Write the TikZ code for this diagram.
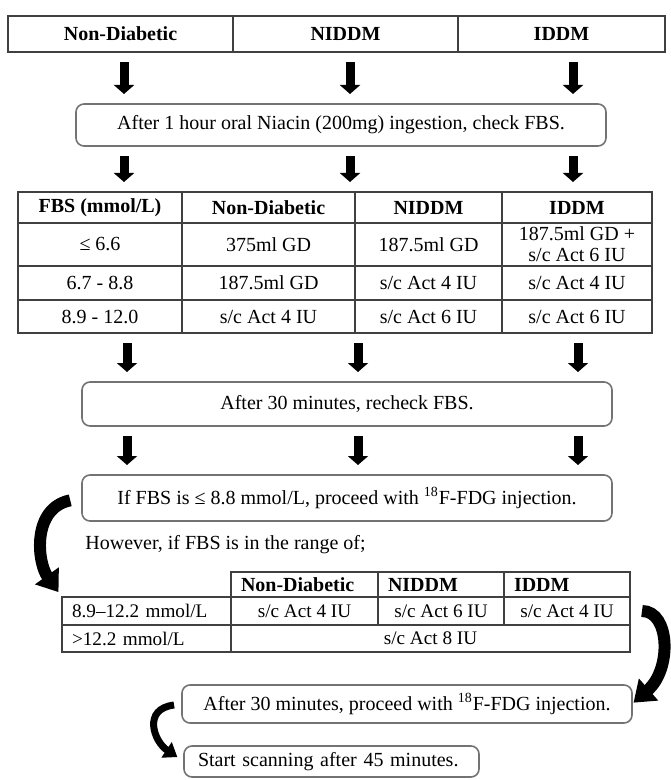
\documentclass[tikz,border=0pt]{standalone}
\usepackage{fontspec}
\setmainfont{Liberation Serif}
\usetikzlibrary{arrows.meta}

\begin{document}
\begin{tikzpicture}[
  x=0.5pt, y=-0.5pt,
  font=\fontsize{10}{12}\selectfont,
  cell/.style={
    draw=black!75,
    line width=0.6pt,
    anchor=north west,
    inner sep=0pt,
    outer sep=0pt,
    align=center
  },
  smallcell/.style={
    cell,
    font=\fontsize{9.6}{11}\selectfont
  },
  stepbox/.style={
    draw=black!55,
    line width=0.8pt,
    rounded corners=4pt,
    inner sep=0pt,
    outer sep=0pt,
    align=center
  },
  blockarrow/.style={
    line width=4.5pt,
    -{Triangle[length=4.5pt, width=10pt]},
    shorten <=5pt,
    shorten >=5pt
  },
  bendarrow/.style={
    line width=6pt,
    -{Triangle[length=10pt, width=14pt]}
  },
  smallbend/.style={
    line width=3.5pt,
    -{Triangle[length=6.5pt, width=9pt]}
  }
]
\useasboundingbox (0,0) rectangle (670,780);

% Group header (y = 16)
\node[cell, font=\bfseries, minimum width=112.5pt, minimum height=18pt] (topnd) at (8,16) {Non-Diabetic};
\node[cell, font=\bfseries, minimum width=112.5pt, minimum height=18pt] (topni) at (topnd.north east) {NIDDM};
\node[cell, font=\bfseries, minimum width=103.5pt, minimum height=18pt] (topid) at (topni.north east) {IDDM};

% Arrow columns
\coordinate (colA) at (124,0);
\coordinate (colB) at (350,0);
\coordinate (colC) at (573,0);
\coordinate (colD) at (127,0);
\coordinate (colE) at (358,0);
\coordinate (colF) at (578,0);

\node[stepbox, minimum width=265pt, minimum height=21pt] (niacin) at (341,125)
  {After 1 hour oral Niacin (200mg) ingestion, check FBS.};

% Dose table (y = 192)
\node[cell, font=\bfseries, minimum width=82pt, minimum height=15.5pt] (fbshead) at (18,192) {FBS (mmol/L)};
\node[cell, font=\bfseries, minimum width=86.5pt, minimum height=15.5pt] (ndhead) at (fbshead.north east) {Non-Diabetic};
\node[cell, font=\bfseries, minimum width=73.5pt, minimum height=15.5pt] (nihead) at (ndhead.north east) {NIDDM};
\node[cell, font=\bfseries, minimum width=75pt, minimum height=15.5pt] (idhead) at (nihead.north east) {IDDM};

\node[cell, minimum width=82pt, minimum height=21.5pt] (lowfbs) at (fbshead.south west) {≤ 6.6};
\node[cell, minimum width=86.5pt, minimum height=21.5pt] (lownd) at (lowfbs.north east) {375ml GD};
\node[cell, minimum width=73.5pt, minimum height=21.5pt] (lowni) at (lownd.north east) {187.5ml GD};
\node[cell, font=\fontsize{10}{10.5}\selectfont, minimum width=75pt, minimum height=21.5pt] (lowid) at (lowni.north east) {187.5ml GD +\\ s/c Act 6 IU};

\node[cell, minimum width=82pt, minimum height=17pt] (midfbs) at (lowfbs.south west) {6.7 - 8.8};
\node[cell, minimum width=86.5pt, minimum height=17pt] (midnd) at (midfbs.north east) {187.5ml GD};
\node[cell, minimum width=73.5pt, minimum height=17pt] (midni) at (midnd.north east) {s/c Act 4 IU};
\node[cell, minimum width=75pt, minimum height=17pt] (midid) at (midni.north east) {s/c Act 4 IU};

\node[cell, minimum width=82pt, minimum height=16.5pt] (highfbs) at (midfbs.south west) {8.9 - 12.0};
\node[cell, minimum width=86.5pt, minimum height=16.5pt] (highnd) at (highfbs.north east) {s/c Act 4 IU};
\node[cell, minimum width=73.5pt, minimum height=16.5pt] (highni) at (highnd.north east) {s/c Act 6 IU};
\node[cell, minimum width=75pt, minimum height=16.5pt] (highid) at (highni.north east) {s/c Act 6 IU};

\node[stepbox, minimum width=265pt, minimum height=22pt] (recheck) at (347,404)
  {After 30 minutes, recheck FBS.};
\node[stepbox, minimum width=265pt, minimum height=23pt] (proceed) at (347,498)
  {If FBS is ≤ 8.8 mmol/L, proceed with \textsuperscript{18}F-FDG injection.};

\node[anchor=base west, inner sep=0pt] (however) at (85,549) {However, if FBS is in the range of;};

% Correction table (y = 572)
\node[smallcell, font=\bfseries, inner xsep=5pt, text width=63.5pt, align=left, minimum height=12.5pt] (adjndhead) at (231,572) {Non-Diabetic};
\node[smallcell, font=\bfseries, inner xsep=5pt, text width=53pt, align=left, minimum height=12.5pt] (adjnihead) at (adjndhead.north east) {NIDDM};
\node[smallcell, font=\bfseries, inner xsep=5pt, text width=53pt, align=left, minimum height=12.5pt] (adjidhead) at (adjnihead.north east) {IDDM};

\node[smallcell, inner xsep=5pt, text width=74.5pt, align=left, minimum height=14pt] (rangeA) at (62,597) {8.9–12.2 mmol/L};
\node[smallcell, minimum width=73.5pt, minimum height=14pt] (rangeAnd) at (rangeA.north east) {s/c Act 4 IU};
\node[smallcell, minimum width=63pt, minimum height=14pt] (rangeAni) at (rangeAnd.north east) {s/c Act 6 IU};
\node[smallcell, minimum width=63pt, minimum height=14pt] (rangeAid) at (rangeAni.north east) {s/c Act 4 IU};

\node[smallcell, inner xsep=5pt, text width=74.5pt, align=left, minimum height=13.5pt] (rangeB) at (rangeA.south west) {>12.2 mmol/L};
\node[smallcell, minimum width=199.5pt, minimum height=13.5pt] (rangeBall) at (rangeB.north east) {s/c Act 8 IU};

\node[stepbox, minimum width=225pt, minimum height=19pt] (inject) at (407,704)
  {After 30 minutes, proceed with \textsuperscript{18}F-FDG injection.};
\node[stepbox, anchor=north west, inner xsep=7pt, text width=133.5pt, align=left, minimum height=15.5pt] (scan) at (184,746)
  {Start scanning after 45 minutes.};

% Straight flow
\draw[blockarrow] (topnd.south -| colA) -- (niacin.north -| colA);
\draw[blockarrow] (topni.south -| colB) -- (niacin.north -| colB);
\draw[blockarrow] (topid.south -| colC) -- (niacin.north -| colC);
\draw[blockarrow] (niacin.south -| colA) -- (fbshead.north -| colA);
\draw[blockarrow] (niacin.south -| colB) -- (fbshead.north -| colB);
\draw[blockarrow] (niacin.south -| colC) -- (fbshead.north -| colC);
\draw[blockarrow] (highfbs.south -| colD) -- (recheck.north -| colD);
\draw[blockarrow] (highfbs.south -| colE) -- (recheck.north -| colE);
\draw[blockarrow] (highfbs.south -| colF) -- (recheck.north -| colF);
\draw[blockarrow] (recheck.south -| colD) -- (proceed.north -| colD);
\draw[blockarrow] (recheck.south -| colE) -- (proceed.north -| colE);
\draw[blockarrow] (recheck.south -| colF) -- (proceed.north -| colF);

% Curved flow
\draw[bendarrow, shorten <=6pt, shorten >=3pt] (proceed.west) .. controls +(-50,10) and +(-25,-35) .. (rangeA.north west);
\draw[bendarrow, shorten <=6pt, shorten >=1pt] (rangeAid.east) .. controls +(40,0) and +(40,-35) .. (inject.east);
\draw[smallbend, shorten <=4pt, shorten >=4pt] (inject.west) .. controls +(-40,5) and +(-30,-20) .. (scan.west);

\end{tikzpicture}
\end{document}
